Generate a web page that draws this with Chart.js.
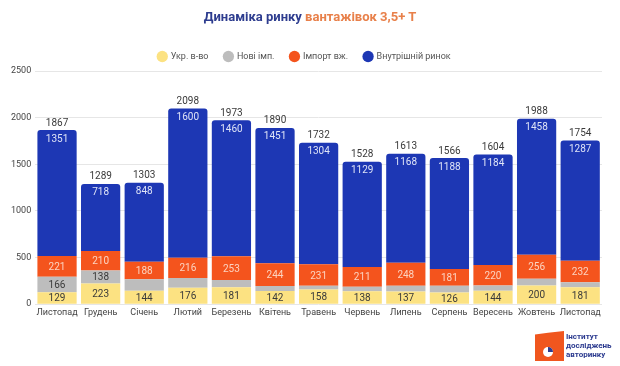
<!DOCTYPE html>
<html>
<head>
<meta charset="utf-8">
<script src="https://cdn.jsdelivr.net/npm/chart.js@4/dist/chart.umd.min.js"></script>
<style>
  html, body { margin: 0; padding: 0; background: #fff; }
  #wrap { position: relative; width: 620px; height: 366px; font-family: Roboto, "Noto Sans", sans-serif; }
  #title { position: absolute; left: 0; top: 9px; width: 620px; text-align: center; font-size: 13px; font-weight: bold; }
  #title .a { color: #2e3d8f; }
  #title .b { color: #e8804a; }
  #logo { position: absolute; left: 535px; top: 331px; width: 29px; height: 30px; background: #f0561e;
          clip-path: polygon(0 12%, 45% 6%, 100% 0, 100% 100%, 0 100%); }
  #logo .dot { position: absolute; left: 8px; top: 16px; width: 10px; height: 10px; border-radius: 50%; background: #fff; }
  #logo .q { position: absolute; left: 13px; top: 16px; width: 5px; height: 5px; background: #2b3a8f; border-top-right-radius: 5px; }
  #logoText { position: absolute; left: 566px; top: 332px; font-size: 8px; line-height: 9px; font-weight: bold; color: #2b3a8f; }
</style>
</head>
<body>
<div id="wrap">
  <canvas id="barChart" width="620" height="366"></canvas>
  <div id="title"><span class="a">Динаміка ринку</span> <span class="b">вантажівок 3,5+ Т</span></div>
  <div id="logo"><div class="dot"></div><div class="q"></div></div>
  <div id="logoText">Інститут<br>досліджень<br>авторинку</div>
</div>
<script>
// Місяці (листопад - листопад)
const mois = ["Листопад", "Грудень", "Січень", "Лютий", "Березень", "Квітень", "Травень",
              "Червень", "Липень", "Серпень", "Вересень", "Жовтень", "Листопад"];
const ukrVyrob = [129, 223, 144, 176, 181, 142, 158, 138, 137, 126, 144, 200, 181];
const noviImp = [166, 138, 123, 106, 79, 53, 39, 50, 60, 71, 56, 74, 54];
const importVzh = [221, 210, 188, 216, 253, 244, 231, 211, 248, 181, 220, 256, 232];
const vnutrRynok = [1351, 718, 848, 1600, 1460, 1451, 1304, 1129, 1168, 1188, 1184, 1458, 1287];
const yTicks = [0, 500, 1000, 1500, 2000, 2500];

// підписи значень на сегментах + сума над стовпчиком
const labelsPlugin = {
  id: 'segLabels',
  afterDatasetsDraw(chart) {
    const ctx = chart.ctx;
    ctx.save();
    ctx.font = '10px Roboto, sans-serif';
    ctx.textAlign = 'center';
    ctx.textBaseline = 'middle';
    chart.data.datasets.forEach((ds, di) => {
      const meta = chart.getDatasetMeta(di);
      meta.data.forEach((bar, i) => {
        const v = ds.data[i];
        if (di === 0) {
          ctx.fillStyle = '#3a3a3a';
          ctx.fillText(v, bar.x, (bar.y + bar.base) / 2 + 1);
        } else if (di === 1) {
          if (v < 130) return;
          ctx.fillStyle = '#3a3a3a';
          ctx.fillText(v, bar.x, (bar.y + bar.base) / 2 + 1);
        } else if (di === 2) {
          ctx.fillStyle = '#fcd3c0';
          ctx.fillText(v, bar.x, (bar.y + bar.base) / 2 + 1);
        } else {
          ctx.fillStyle = '#dfe4f7';
          ctx.fillText(v, bar.x, bar.y + 9);
          const total = ukrVyrob[i] + noviImp[i] + importVzh[i] + vnutrRynok[i];
          ctx.fillStyle = '#3a3a3a';
          ctx.fillText(total, bar.x, bar.y - 7);
        }
      });
    });
    ctx.restore();
  }
};

const ctx = document.getElementById('barChart');
new Chart(ctx, {
  type: 'bar',
  data: {
    labels: mois,
    datasets: [
      { label: 'Укр. в-во', data: ukrVyrob, backgroundColor: '#fce282', borderRadius: 2 },
      { label: 'Нові імп.', data: noviImp, backgroundColor: '#bdbdbd', borderRadius: 0 },
      { label: 'Імпорт вж.', data: importVzh, backgroundColor: '#f4541d', borderRadius: 0 },
      { label: 'Внутрішній ринок', data: vnutrRynok, backgroundColor: '#1d37b4', borderRadius: 3 }
    ]
  },
  options: {
    responsive: false,
    animation: false,
    devicePixelRatio: 1,
    layout: { padding: { top: 36, right: 18, left: 7, bottom: 45 } },
    datasets: { bar: { categoryPercentage: 0.9, barPercentage: 1 } },
    plugins: {
      title: { display: false },
      tooltip: { enabled: false },
      legend: {
        position: 'top',
        labels: {
          usePointStyle: true, pointStyle: 'circle', boxWidth: 8, boxHeight: 8,
          padding: 16, color: '#555', font: { family: 'Roboto', size: 9 }
        }
      }
    },
    scales: {
      x: {
        stacked: true,
        grid: { display: false, drawTicks: false },
        border: { display: false },
        ticks: { color: '#444', font: { family: 'Roboto', size: 9 }, padding: 3, maxRotation: 0, autoSkip: false }
      },
      y: {
        stacked: true,
        min: 0, max: 2500,
        afterBuildTicks(axis) { axis.ticks = yTicks.map(v => ({ value: v })); },
        grid: { color: '#e6e6e6', drawTicks: false },
        border: { display: false },
        ticks: { color: '#444', font: { family: 'Roboto', size: 9 }, padding: 4, callback: v => String(v) }
      }
    }
  },
  plugins: [labelsPlugin]
});
</script>
</body>
</html>
